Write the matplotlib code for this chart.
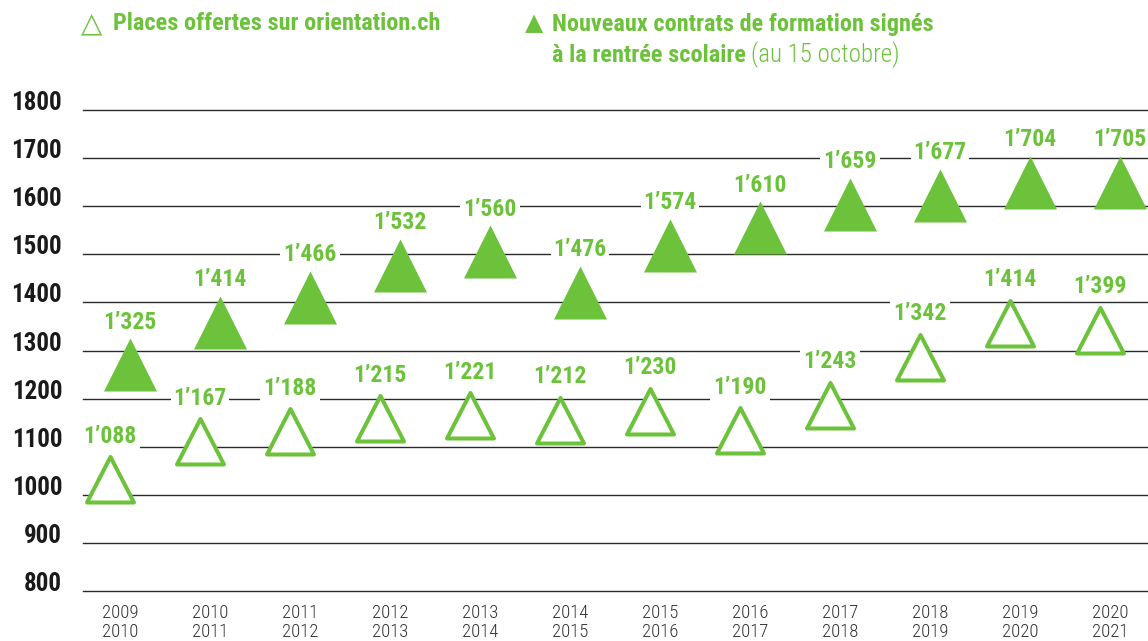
import numpy as np
import matplotlib
matplotlib.use("Agg")
import matplotlib.pyplot as plt
from matplotlib import font_manager
from matplotlib.markers import MarkerStyle
from matplotlib.path import Path

# pick the narrowest sans available
entries = font_manager.fontManager.ttflist
names = {f.name for f in entries}
stretch = 'normal'
if 'Liberation Sans Narrow' in names:
    family = 'Liberation Sans Narrow'
elif 'Roboto Condensed' in names:
    family = 'Roboto Condensed'
elif any(f.name == 'DejaVu Sans' and f.stretch == 'condensed' for f in entries):
    family = 'DejaVu Sans'
    stretch = 'condensed'
else:
    family = 'Roboto'
plt.rcParams['font.family'] = [family, 'DejaVu Sans']
plt.rcParams['font.stretch'] = stretch

# data
years = ["2009\n2010", "2010\n2011", "2011\n2012", "2012\n2013", "2013\n2014", "2014\n2015",
         "2015\n2016", "2016\n2017", "2017\n2018", "2018\n2019", "2019\n2020", "2020\n2021"]
places = [1088, 1167, 1188, 1215, 1221, 1212, 1230, 1190, 1243, 1342, 1414, 1399]
contrats = [1325, 1414, 1466, 1532, 1560, 1476, 1574, 1610, 1659, 1677, 1704, 1705]

green = "#6cc23a"

def fmt(v):
    return f"{v:,}".replace(",", "\u2019")

# triangles with apex at the data point (coords in pixels)
filled_path = Path([(0, 0), (-26.5, -53), (26.5, -53), (0, 0)],
                   [Path.MOVETO, Path.LINETO, Path.LINETO, Path.CLOSEPOLY])
hollow_path = Path([(0, -4.5), (-23.5, -50), (23.5, -50), (0, -4.5)],
                   [Path.MOVETO, Path.LINETO, Path.LINETO, Path.CLOSEPOLY])
m_filled = MarkerStyle(filled_path, joinstyle='miter')
m_hollow = MarkerStyle(hollow_path, joinstyle='miter')

fig = plt.figure(figsize=(11.48, 6.41), dpi=100)
ax = fig.add_axes([83 / 1148, (641 - 591) / 641, (1148 - 83) / 1148, (591 - 110) / 641])
ax.set_xlim((83 - 120) / 90, (1148 - 120) / 90)
ax.set_ylim(800, 1800)

x = np.arange(len(years))
off = 10 / 90

ax.plot(x - off, places, linestyle='none', marker=m_hollow, markersize=2 * 0.72 * 50,
        markerfacecolor='white', markeredgecolor=green, markeredgewidth=2.9, zorder=3)
ax.plot(x + off, contrats, linestyle='none', marker=m_filled, markersize=2 * 0.72 * 53,
        markerfacecolor=green, markeredgewidth=0, zorder=3)

lab_size = 15.5 if family == 'Roboto' else 17
for xs, vals in ((x - off, places), (x + off, contrats)):
    for xi, v in zip(xs, vals):
        ax.annotate(fmt(v), (xi, v), xytext=(0, 3.5), textcoords='offset points',
                    ha='center', va='bottom', color=green, fontsize=lab_size, fontweight='bold',
                    bbox=dict(boxstyle='square,pad=0.12', fc='white', ec='none'), zorder=4)

ax.set_yticks(np.arange(800, 1801, 100))
# left labels sit on their lines
ax.set_yticklabels([str(t) for t in range(800, 1801, 100)], fontsize=lab_size + 1,
                   fontweight='bold', color='#1a1a1a', va='baseline')
ax.set_xticks(x)
ax.set_xticklabels(years, fontsize=13.5, color='#333333', linespacing=1.1,
                   fontweight='light')
ax.tick_params(axis='both', length=0)
ax.tick_params(axis='y', pad=15)
ax.tick_params(axis='x', pad=9)
for s in ax.spines.values():
    s.set_visible(False)
ax.yaxis.grid(True, color='#2a2a2a', linewidth=1.0)
ax.set_axisbelow(True)
for gl in ax.get_ygridlines():
    gl.set_clip_on(False)

# legend
leg_size = 16 if family == 'Roboto' else 17.5
fig.text(81 / 1148, 1 - 24 / 641, "\u25b3", color=green, fontsize=20, va='center', ha='left',
         family=['DejaVu Sans'])
fig.text(113 / 1148, 1 - 24 / 641, "Places offertes sur orientation.ch", color=green,
         fontsize=leg_size, fontweight='bold', va='center', ha='left')
fig.text(525 / 1148, 1 - 23 / 641, "\u25b2", color=green, fontsize=17, va='center', ha='left',
         family=['DejaVu Sans'])
fig.text(552 / 1148, 1 - 24 / 641, "Nouveaux contrats de formation signés", color=green,
         fontsize=leg_size, fontweight='bold', va='center', ha='left')
t = fig.text(552 / 1148, 1 - 55 / 641, "à la rentrée scolaire", color=green,
             fontsize=leg_size, fontweight='bold', va='center', ha='left')
fig.canvas.draw()
bb = t.get_window_extent()
fig.text((bb.x1 + 5) / 1148, 1 - 55 / 641, "(au 15 octobre)", color=green,
         fontsize=leg_size + 0.5, fontweight='light', va='center', ha='left')

fig.savefig("out.png", dpi=100)
